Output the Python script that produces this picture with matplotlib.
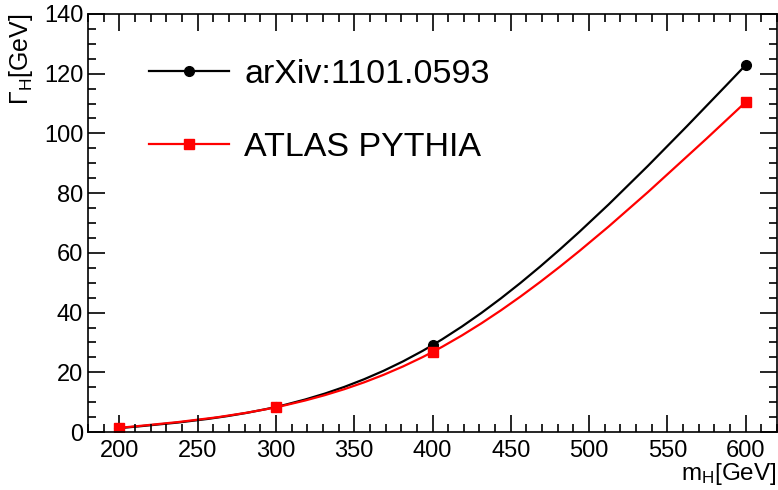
import numpy as np
import matplotlib
matplotlib.use("Agg")
import matplotlib.pyplot as plt
from matplotlib.path import Path
from matplotlib.patches import PathPatch
from matplotlib.ticker import MultipleLocator

plt.rcParams['font.family'] = ['Liberation Sans', 'DejaVu Sans']
plt.rcParams['mathtext.fontset'] = 'custom'
plt.rcParams['mathtext.rm'] = 'Liberation Sans'
plt.rcParams['mathtext.it'] = 'Liberation Sans'

# masses and widths
m_h = [200, 300, 400, 600]
width_arxiv = [1.3, 8.4, 29.1, 122.9]
width_atlas = [1.4, 8.3, 26.8, 110.5]
labels = ['arXiv:1101.0593', 'ATLAS PYTHIA']


def smooth_path(x, y):
    # natural cubic spline through the points, drawn as bezier segments
    # (same idea as ROOT's "C" draw option)
    x = np.asarray(x, float)
    y = np.asarray(y, float)
    n = len(x)
    h = np.diff(x)
    A = np.zeros((n, n))
    b = np.zeros(n)
    A[0, 0] = A[-1, -1] = 1
    for i in range(1, n - 1):
        A[i, i - 1] = h[i - 1]
        A[i, i] = 2 * (h[i - 1] + h[i])
        A[i, i + 1] = h[i]
        b[i] = 6 * ((y[i + 1] - y[i]) / h[i] - (y[i] - y[i - 1]) / h[i - 1])
    M = np.linalg.solve(A, b)
    verts = [(x[0], y[0])]
    codes = [Path.MOVETO]
    for i in range(n - 1):
        s = (y[i + 1] - y[i]) / h[i]
        d0 = s - h[i] * (2 * M[i] + M[i + 1]) / 6
        d1 = s + h[i] * (M[i] + 2 * M[i + 1]) / 6
        verts += [(x[i] + h[i] / 3, y[i] + d0 * h[i] / 3),
                  (x[i + 1] - h[i] / 3, y[i + 1] - d1 * h[i] / 3),
                  (x[i + 1], y[i + 1])]
        codes += [Path.CURVE4] * 3
    return Path(verts, codes)


fig = plt.figure(figsize=(7.78, 4.90), dpi=100)
ax = fig.add_axes([88 / 778, 1 - 432 / 490, (777 - 88) / 778, (432 - 14) / 490])

ax.add_patch(PathPatch(smooth_path(m_h, width_arxiv), fill=False, edgecolor='black', lw=1.6))
ax.add_patch(PathPatch(smooth_path(m_h, width_atlas), fill=False, edgecolor='red', lw=1.6))
ax.plot(m_h, width_arxiv, 'o', color='black', ms=7, ls='none')
ax.plot(m_h, width_atlas, 's', color='red', ms=7, ls='none')

# legend handles
h1, = ax.plot([], [], '-o', color='black', ms=7, lw=1.6)
h2, = ax.plot([], [], '-s', color='red', ms=7, lw=1.6)
ax.legend([h1, h2], labels, loc='upper left', bbox_to_anchor=(0.044, 0.965),
          frameon=False, fontsize=24.5, handlelength=2.35, handletextpad=0.45,
          labelspacing=1.22, numpoints=1)

ax.set_xlim(180, 620)
ax.set_ylim(0, 140)
ax.xaxis.set_major_locator(MultipleLocator(50))
ax.xaxis.set_minor_locator(MultipleLocator(10))
ax.yaxis.set_major_locator(MultipleLocator(20))
ax.yaxis.set_minor_locator(MultipleLocator(5))
ax.tick_params(which='both', direction='in', top=True, right=True, labelsize=17, width=1.2)
ax.tick_params(which='major', length=12)
ax.tick_params(axis='x', pad=6)
ax.tick_params(which='minor', length=6)
for s in ax.spines.values():
    s.set_linewidth(1.2)

ax.set_xlabel(r'm$_{\rm H}$[GeV]', fontsize=17.5, loc='right', labelpad=-1)
ax.set_ylabel(r'$\Gamma_{\rm H}$[GeV]', fontsize=18, loc='top', labelpad=6)

fig.savefig('out.png', dpi=100)
